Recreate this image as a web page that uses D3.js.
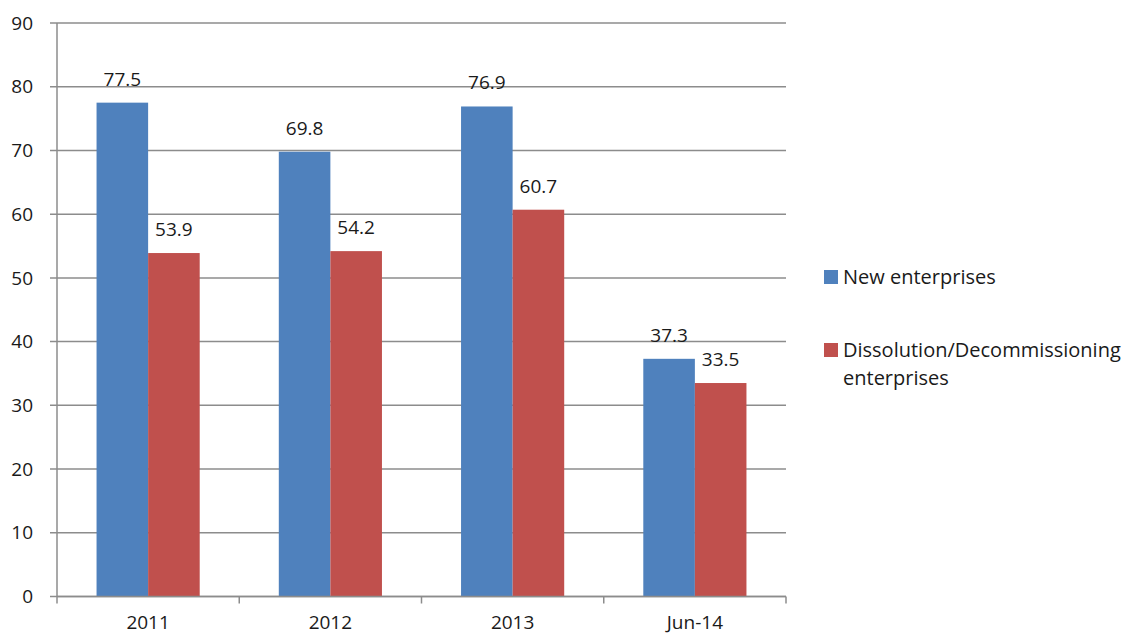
<!DOCTYPE html>
<html>
<head>
<meta charset="utf-8">
<script src="https://cdn.jsdelivr.net/npm/d3@7"></script>
<style>
  body { margin: 0; background: #fff; }
  text { font-family: "Open Sans", sans-serif; fill: #1a1a1a; }
</style>
</head>
<body>
<svg id="chart" width="1126" height="636"></svg>
<script>
const categories = ['2011', '2012', '2013', 'Jun-14'];
const newEnterprises = [77.5, 69.8, 76.9, 37.3];
const dissolved = [53.9, 54.2, 60.7, 33.5];
const seriesNames = ['New enterprises', 'Dissolution/Decommissioning enterprises'];
const yTicks = [0, 10, 20, 30, 40, 50, 60, 70, 80, 90];

const colors = ['#4F81BD', '#C0504D'];
const margin = { top: 23, left: 57 };
const width = 729;
const height = 573.5;

const svg = d3.select('#chart');
const g = svg.append('g')
  .attr('transform', `translate(${margin.left}, ${margin.top})`);

const x = d3.scaleBand()
  .domain(categories)
  .range([0, width]);

const x1 = d3.scaleBand()
  .domain([0, 1])
  .range([0, x.bandwidth() * 0.566]);

const y = d3.scaleLinear()
  .domain([0, 90])
  .range([height, 0]);

// gridlines
g.append('g')
  .selectAll('line')
  .data(yTicks)
  .join('line')
  .attr('x1', -7)
  .attr('x2', width)
  .attr('y1', d => y(d))
  .attr('y2', d => y(d))
  .attr('stroke', '#8c8c8c')
  .attr('stroke-width', 1.5);

// y labels
g.append('g')
  .selectAll('text')
  .data(yTicks)
  .join('text')
  .attr('x', -24)
  .attr('y', d => y(d))
  .attr('dy', '0.35em')
  .attr('text-anchor', 'end')
  .style('font-size', '19px')
  .text(d => d);

// bars
const groupOffset = (x.bandwidth() - x1.range()[1]) / 2;
[newEnterprises, dissolved].forEach((vals, si) => {
  const s = g.append('g');
  s.selectAll('rect')
    .data(vals)
    .join('rect')
    .attr('x', (d, i) => x(categories[i]) + groupOffset + x1(si))
    .attr('y', d => y(d))
    .attr('width', x1.bandwidth())
    .attr('height', d => height - y(d))
    .attr('fill', colors[si]);
  s.selectAll('text')
    .data(vals)
    .join('text')
    .attr('x', (d, i) => x(categories[i]) + groupOffset + x1(si) + x1.bandwidth() / 2)
    .attr('y', d => y(d) - 17)
    .attr('text-anchor', 'middle')
    .style('font-size', '19px')
    .text(d => d.toFixed(1));
});

// y axis line
g.append('line')
  .attr('x1', 0).attr('x2', 0)
  .attr('y1', 0).attr('y2', height + 7)
  .attr('stroke', '#8c8c8c')
  .attr('stroke-width', 1.5);

// x axis line + ticks
g.append('line')
  .attr('x1', 0).attr('x2', width)
  .attr('y1', height).attr('y2', height)
  .attr('stroke', '#8c8c8c')
  .attr('stroke-width', 1.5);
g.append('g')
  .selectAll('line')
  .data(categories.slice(1).concat(['end']))
  .join('line')
  .attr('x1', d => d === 'end' ? width : x(d))
  .attr('x2', d => d === 'end' ? width : x(d))
  .attr('y1', height)
  .attr('y2', height + 7)
  .attr('stroke', '#8c8c8c')
  .attr('stroke-width', 1.5);

g.append('g')
  .selectAll('text')
  .data(categories)
  .join('text')
  .attr('x', d => x(d) + x.bandwidth() / 2)
  .attr('y', height + 26)
  .attr('dy', '0.35em')
  .attr('text-anchor', 'middle')
  .style('font-size', '19px')
  .text(d => d);

// legend
const legend = svg.append('g');
const legendY = [277, 350];
seriesNames.forEach((name, i) => {
  legend.append('rect')
    .attr('x', 824)
    .attr('y', legendY[i] - 7)
    .attr('width', 14)
    .attr('height', 14)
    .attr('fill', colors[i]);
});
legend.append('text')
  .attr('x', 843).attr('y', 277).attr('dy', '0.35em')
  .style('font-size', '20px')
  .text(seriesNames[0]);
const t2 = legend.append('text')
  .attr('x', 843).attr('y', 350).attr('dy', '0.35em')
  .style('font-size', '20px');
t2.append('tspan').attr('x', 843).text('Dissolution/Decommissioning');
t2.append('tspan').attr('x', 843).attr('dy', 28).text('enterprises');
</script>
</body>
</html>
